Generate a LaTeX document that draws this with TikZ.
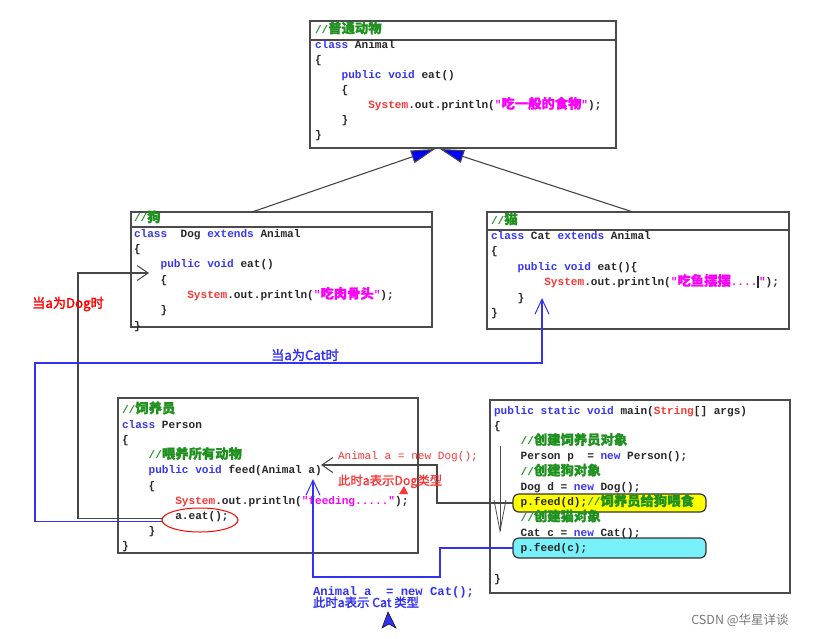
\documentclass[tikz,border=0pt]{standalone}
\usepackage{fontspec}
\setmonofont{Liberation Mono}
\newfontfamily\cjk[Scale=1.2,FakeBold=1.2]{Noto Sans CJK SC}
\newfontfamily\cjkb[Scale=1.2,FakeBold=2]{Noto Sans CJK SC}
\newfontfamily\wmfont{Noto Sans CJK SC}
\usetikzlibrary{arrows.meta,shapes.geometric}
\definecolor{kw}{RGB}{55,55,240}
\definecolor{cmt}{RGB}{30,145,30}
\definecolor{sys}{RGB}{250,55,55}
\definecolor{strc}{RGB}{250,0,250}
\definecolor{boxc}{RGB}{75,75,75}
\definecolor{flowg}{RGB}{70,70,70}
\definecolor{flowb}{RGB}{50,50,240}
\definecolor{hly}{RGB}{255,255,0}
\definecolor{hlc}{RGB}{120,240,250}
\definecolor{wmc}{RGB}{120,120,120}
\definecolor{txt}{RGB}{40,40,40}
\newcommand\kwd[1]{\textcolor{kw}{#1}}
\newcommand\cmnt[1]{\textcolor{cmt}{#1}}
\newcommand\sysr[1]{\textcolor{sys}{#1}}
\newcommand\strm[1]{\textcolor{strc}{#1}}
\newcommand\Ind{\hphantom{0000}}
\newcommand\Zh[1]{{\cjk #1}}
\tikzset{
  box/.style={draw=boxc, line width=1.4pt, inner sep=0pt, outer sep=0pt, anchor=north west},
  hl/.style={draw=black!80, line width=1.2pt, rounded corners=6pt, inner sep=0pt, outer sep=0pt, anchor=north west, minimum width=193pt},
  code/.style={anchor=base west, inner sep=0pt, outer sep=0pt, align=left, text=txt},
  gflow/.style={draw=flowg, line width=1.8pt, -{Straight Barb[length=11pt,width=15pt,line width=1pt]}},
  bflow/.style={draw=flowb, line width=1.2pt, -{Straight Barb[length=15pt,width=14pt,line width=1pt]}},
  inh/.style={draw=flowg, line width=1.1pt, -{Triangle[length=24pt,width=13pt,fill=blue]}},
  lbl/.style={inner sep=0pt, outer sep=0pt}
}
\begin{document}
\begin{tikzpicture}[x=1pt,y=-1pt]
\fill[white] (0,0) rectangle (824,638);
\useasboundingbox (0,0) rectangle (824,638);

% boxes
\node[box, minimum width=306pt, minimum height=127pt] (animal) at (310,21) {};
\draw[boxc, line width=1.4pt] ([yshift=-19pt]animal.north west) -- ([yshift=-19pt]animal.north east);
\node[box, minimum width=301pt, minimum height=115pt] (dog) at (131,212) {};
\draw[boxc, line width=1.4pt] ([yshift=-15pt]dog.north west) -- ([yshift=-15pt]dog.north east);
\node[box, minimum width=302pt, minimum height=117pt] (cat) at (487,212) {};
\draw[boxc, line width=1.4pt] ([yshift=-18pt]cat.north west) -- ([yshift=-18pt]cat.north east);
\node[box, minimum width=300pt, minimum height=155pt] (person) at (118,398) {};
\node[box, minimum width=300pt, minimum height=193pt] (main) at (490,400) {};

% highlights
\node[hl, fill=hly, minimum height=18pt] (feedd) at (513,494) {};
\node[hl, fill=hlc, minimum height=20pt] (feedc) at (513,538) {};

% code texts (anchored at the baseline of their last line)
\node[code, font=\ttfamily\bfseries\fontsize{11.1}{15.1}\selectfont] (animaltxt) at (315,138.7) {%
\cmnt{//\Zh{普通动物}}\\
\kwd{class} Animal\\
\{\\
\Ind\kwd{public void} eat()\\
\Ind\{\\
\Ind\Ind\sysr{System}.out.println(\strm{"\Zh{吃一般的食物}"});\\
\Ind\}\\
\}};

\node[code, font=\ttfamily\bfseries\fontsize{11.1}{15.3}\selectfont] (dogtxt) at (134,329) {%
\cmnt{//\Zh{狗}}\\
\kwd{class}\hphantom{00}Dog \kwd{extends} Animal\\
\{\\
\Ind\kwd{public void} eat()\\
\Ind\{\\
\Ind\Ind\sysr{System}.out.println(\strm{"\Zh{吃肉骨头}"});\\
\Ind\}\\
\}};

\node[code, font=\ttfamily\bfseries\fontsize{11.1}{15.4}\selectfont] (cattxt) at (491,316.4) {%
\cmnt{//\Zh{猫}}\\
\kwd{class} Cat \kwd{extends} Animal\\
\{\\
\Ind\kwd{public void} eat()\{\\
\Ind\Ind\sysr{System}.out.println(\strm{"\Zh{吃鱼摆摆}....}\rule[-2pt]{1.6pt}{12pt}\strm{"});\\
\Ind\}\\
\}};

\node[code, font=\ttfamily\bfseries\fontsize{11.1}{15.2}\selectfont] (persontxt) at (122,549.8) {%
\cmnt{//\Zh{饲养员}}\\
\kwd{class} Person\\
\{\\
\Ind\cmnt{//\Zh{喂养所有动物}}\\
\Ind\kwd{public void} feed(Animal a)\\
\Ind\{\\
\Ind\Ind\sysr{System}.out.println(\strm{"feeding....."});\\
\Ind\Ind a.eat();\\
\Ind\}\\
\}};

\node[code, font=\ttfamily\bfseries\fontsize{11.1}{15.3}\selectfont] (maintxt) at (494,582.3) {%
\kwd{public static void} main(\sysr{String}[] args)\\
\{\\
\Ind\cmnt{//\Zh{创建饲养员对象}}\\
\Ind Person p\hphantom{0} = \kwd{new} Person();\\
\Ind\cmnt{//\Zh{创建狗对象}}\\
\Ind Dog d = \kwd{new} Dog();\\
\Ind p.feed(d);\cmnt{//\Zh{饲养员给狗喂食}}\\
\Ind\cmnt{//\Zh{创建猫对象}}\\
\Ind Cat c = \kwd{new} Cat();\\
\Ind p.feed(c);\\
\mbox{}\\
\}};

% ellipse around a.eat()
\node[draw=red, ellipse, line width=1pt, minimum width=76pt, minimum height=24pt, inner sep=0pt] (eatc) at (200,520) {};

% inheritance arrows
\coordinate (inhL) at (252,212);
\coordinate (inhLtip) at (435,149);
\coordinate (inhR) at (633,212);
\coordinate (inhRtip) at (440,149);
\draw[inh] (inhL) -- (inhLtip);
\draw[inh] (inhR) -- (inhRtip);

% execution order arrow in main
\coordinate (vtop) at (500,446);
\coordinate (vbot) at (500,533);
\draw[boxc, line width=0.8pt, -{Straight Barb[length=31pt,width=12pt,line width=0.8pt]}] (vtop) -- (vbot);

% dog flow (gray)
\coordinate (fd1) at (437,503);
\coordinate (fd2) at (437,465);
\coordinate (feedtip) at (321,465);
\draw[gflow] (feedd.west) -- (fd1) -- (fd2) -- (feedtip);
\coordinate (dg1) at (78,518.5);
\coordinate (dg2) at (78,273);
\coordinate (dogtip) at (149,273);
\draw[gflow] ([yshift=1.5pt]eatc.west) -- (dg1) -- (dg2) -- (dogtip);

% cat flow (blue)
\coordinate (cb1) at (440,548);
\coordinate (cb2) at (440,577);
\coordinate (cb3) at (313,577);
\coordinate (cattip) at (313,479);
\draw[bflow] (feedc.west) -- (cb1) -- (cb2) -- (cb3) -- (cattip);
\coordinate (cc1) at (35,521.5);
\coordinate (cc2) at (35,363);
\coordinate (cc3) at (542,363);
\coordinate (cctip) at (542,298);
\draw[bflow] ([yshift=-1.5pt]eatc.west) -- (cc1) -- (cc2) -- (cc3) -- (cctip);

% labels
\node[lbl, font=\cjkb\fontsize{11}{13}\selectfont, text=red] (whendog) at (68,304) {当a为Dog时};
\node[lbl, font=\cjkb\fontsize{11}{13}\selectfont, text=flowb] (whencat) at (305,355) {当a为Cat时};
\node[lbl, anchor=base west, font=\ttfamily\fontsize{11.1}{13}\selectfont, text=sys] (dogassign) at (338,459) {Animal a = new Dog();};
\node[lbl, anchor=base west, font=\cjk\fontsize{10.3}{13}\selectfont, text=sys] (dogtype) at (338,485) {此时a表示Dog类型};
\node[lbl, anchor=base west, font=\ttfamily\bfseries\fontsize{12.2}{13}\selectfont, text=flowb] (catassign) at (313,595) {Animal a\hphantom{0} = new Cat();};
\node[lbl, anchor=base west, font=\cjkb\fontsize{10.3}{13}\selectfont, text=flowb] (cattype) at (313,607) {此时a表示 Cat 类型};

% markers
\fill[sys] (399,494) -- (404,486) -- (408,494) -- cycle;
\filldraw[fill=flowb, draw=black, line width=0.5pt] (388,612) -- (396,628) -- (389,624) -- (382,628) -- cycle;

% watermark
\node[lbl, font=\wmfont\fontsize{12.5}{14}\selectfont, text=wmc] (wm) at (740,620) {CSDN @华星详谈};
\end{tikzpicture}
\end{document}
